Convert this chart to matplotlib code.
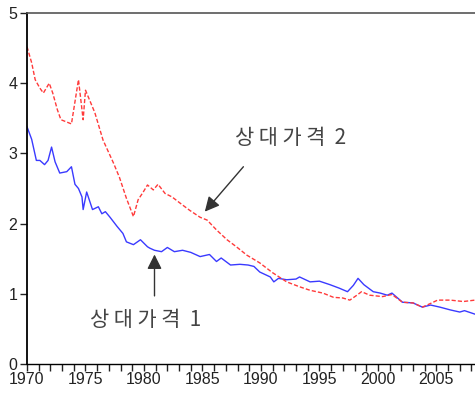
import numpy as np
import matplotlib.pyplot as plt
from matplotlib.ticker import MultipleLocator

plt.rcParams['font.family'] = ['Liberation Sans', 'DejaVu Sans']

# 상대가격 1 (파란 실선)
yrs1 = [1970.0, 1970.4, 1970.8, 1971.1, 1971.5, 1971.8, 1972.1, 1972.4, 1972.8, 1973.4,
        1973.8, 1974.1, 1974.4, 1974.7, 1974.8, 1975.1, 1975.6, 1976.1, 1976.4, 1976.7,
        1977.1, 1977.7, 1978.2, 1978.5, 1979.1, 1979.7, 1980.3, 1980.5, 1980.9, 1981.5,
        1982.0, 1982.6, 1983.3, 1984.0, 1984.8, 1985.6, 1986.2, 1986.6, 1987.4, 1988.2,
        1988.9, 1989.4, 1989.9, 1990.8, 1991.1, 1991.5, 1992.2, 1993.0, 1993.3, 1994.2,
        1995.0, 1995.9, 1996.7, 1997.4, 1997.9, 1998.3, 1998.8, 1999.6, 2000.2, 2000.8,
        2001.2, 2002.1, 2003.0, 2003.8, 2004.5, 2005.3, 2006.2, 2007.0, 2007.4, 2008.3]
rel1 = [3.38, 3.20, 2.90, 2.90, 2.84, 2.90, 3.09, 2.88, 2.72, 2.74,
        2.81, 2.56, 2.50, 2.38, 2.20, 2.45, 2.20, 2.24, 2.14, 2.17,
        2.09, 1.96, 1.86, 1.74, 1.70, 1.77, 1.67, 1.65, 1.62, 1.60,
        1.66, 1.60, 1.62, 1.59, 1.53, 1.56, 1.46, 1.51, 1.41, 1.42,
        1.41, 1.39, 1.31, 1.24, 1.17, 1.22, 1.20, 1.21, 1.24, 1.17,
        1.18, 1.13, 1.08, 1.03, 1.12, 1.22, 1.13, 1.03, 1.01, 0.98,
        1.01, 0.88, 0.87, 0.81, 0.84, 0.81, 0.77, 0.74, 0.76, 0.71]

# 상대가격 2 (빨간 점선)
yrs2 = [1970.0, 1970.4, 1970.7, 1971.1, 1971.4, 1971.9, 1972.2, 1972.6, 1972.9, 1973.8,
        1974.4, 1974.8, 1975.0, 1975.3, 1975.8, 1976.5, 1977.4, 1977.9, 1978.5, 1979.1,
        1979.5, 1979.9, 1980.3, 1980.8, 1981.2, 1981.8, 1982.4, 1983.1, 1983.9, 1984.8,
        1985.4, 1986.2, 1987.1, 1987.9, 1988.8, 1989.9, 1991.0, 1992.2, 1993.3, 1994.2,
        1995.3, 1996.2, 1997.0, 1997.6, 1998.2, 1998.6, 1999.3, 2000.4, 2001.2, 2002.1,
        2003.0, 2003.8, 2004.6, 2005.1, 2006.2, 2007.3, 2008.3]
rel2 = [4.52, 4.29, 4.05, 3.93, 3.86, 4.00, 3.86, 3.62, 3.48, 3.42,
        4.05, 3.48, 3.90, 3.78, 3.58, 3.19, 2.86, 2.66, 2.36, 2.10,
        2.34, 2.44, 2.55, 2.48, 2.56, 2.43, 2.38, 2.29, 2.19, 2.09,
        2.05, 1.91, 1.77, 1.67, 1.55, 1.44, 1.30, 1.17, 1.10, 1.05,
        1.01, 0.95, 0.94, 0.91, 0.98, 1.03, 0.98, 0.96, 0.99, 0.88,
        0.87, 0.81, 0.87, 0.91, 0.91, 0.89, 0.91]

fig = plt.figure(figsize=(4.75, 3.96), dpi=100)
ax = fig.add_axes([27 / 475, 32 / 396, 448 / 475, 351 / 396])

ax.plot(yrs1, rel1, color='#3a3aff', lw=1.0)
ax.plot(yrs2, rel2, color='#ff3a3a', lw=1.0, ls=(0, (3, 1.5)))

ax.set_xlim(1970, 2008.3)
ax.set_ylim(0, 5)
ax.xaxis.set_major_locator(MultipleLocator(5))
ax.xaxis.set_minor_locator(MultipleLocator(1))
ax.yaxis.set_major_locator(MultipleLocator(1))
ax.tick_params(axis='x', which='both', direction='out', length=5, width=1,
               labelsize=11.5, pad=1, colors='#222')
ax.tick_params(axis='y', direction='out', length=5, width=1, labelsize=11.5, pad=2,
               colors='#222')
ax.spines['right'].set_visible(False)
ax.spines['left'].set_linewidth(1.3)
ax.spines['bottom'].set_linewidth(1.0)
ax.spines['top'].set_color('#555')
ax.spines['top'].set_linewidth(1.2)

ko = ['Noto Sans CJK KR', 'DejaVu Sans']
ap = dict(arrowstyle='-|>', mutation_scale=22, color='#333', lw=1.0, shrinkA=0, shrinkB=0)
ax.annotate('', xy=(1985.2, 2.17), xytext=(1988.5, 2.81), arrowprops=ap)
ax.text(1992.5, 3.22, '상 대 가 격  2', family=ko, fontsize=15, fontweight='light',
        color='#444', ha='center', va='center')
ax.annotate('', xy=(1980.9, 1.56), xytext=(1980.9, 0.97), arrowprops=ap)
ax.text(1980.1, 0.63, '상 대 가 격  1', family=ko, fontsize=15, fontweight='light',
        color='#444', ha='center', va='center')

fig.savefig('out.png', dpi=100)
